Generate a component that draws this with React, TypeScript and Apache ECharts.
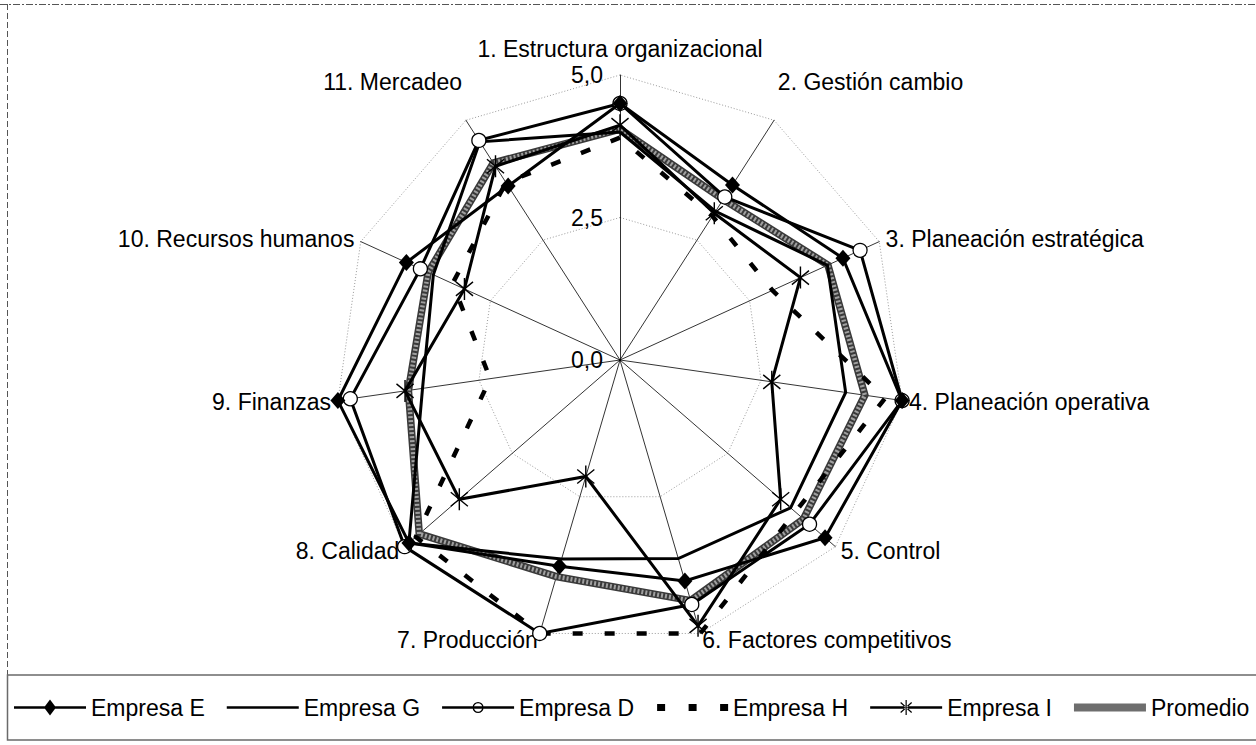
import React, { useEffect, useRef } from "react";
import * as echarts from "echarts";

// ---------- data ----------
const categories = [
  "1. Estructura organizacional",
  "2. Gestión cambio",
  "3. Planeación estratégica",
  "4. Planeación operativa",
  "5. Control",
  "6. Factores competitivos",
  "7. Producción",
  "8. Calidad",
  "9. Finanzas",
  "10. Recursos humanos",
  "11. Mercadeo",
];
const empresaE = [4.5, 3.65, 4.3, 5.0, 4.76, 4.04, 3.77, 4.9, 5.0, 4.12, 3.63];
const empresaG = [4.0, 3.1, 4.0, 4.0, 3.96, 3.63, 3.64, 4.9, 3.5, 3.6, 4.55];
const empresaD = [4.5, 3.4, 4.63, 5.0, 4.4, 4.47, 5.0, 5.0, 4.78, 3.85, 4.58];
const empresaH = [3.9, 3.0, 2.94, 4.7, 4.07, 5.0, 5.0, 4.74, 2.3, 3.23, 3.7];
const empresaI = [4.12, 3.06, 3.48, 2.69, 3.73, 4.86, 2.13, 3.73, 3.81, 3.0, 4.04];
const promedio = [4.05, 3.35, 4.01, 4.34, 4.26, 4.4, 3.96, 4.66, 3.75, 3.7, 4.11];
const seriesNames = ["Empresa E", "Empresa G", "Empresa D", "Empresa H", "Empresa I", "Promedio"];
const axisMin = 0;
const axisMax = 5;
const axisInterval = 2.5;

// ---------- layout / style ----------
const FONT = "'Liberation Sans', Arial, Helvetica, sans-serif";
const FS = 23;
const CX = 620;
const CY = 360;
const R = 285;

// radar in ECharts runs counter-clockwise: reorder so the chart reads clockwise
const cw = <T,>(arr: T[]): T[] => [arr[0], ...arr.slice(1).reverse()];

function bar(x1: number, y1: number, x2: number, y2: number, w: number) {
  const dx = x2 - x1, dy = y2 - y1, L = Math.hypot(dx, dy);
  const nx = (-dy / L) * w, ny = (dx / L) * w;
  const f = (v: number) => v.toFixed(2);
  return `M${f(x1 + nx)} ${f(y1 + ny)}L${f(x2 + nx)} ${f(y2 + ny)}L${f(x2 - nx)} ${f(y2 - ny)}L${f(x1 - nx)} ${f(y1 - ny)}Z`;
}

const starPath =
  "path://" + bar(10, 0, 10, 22, 0.75) + bar(1, 4, 19, 18, 0.75) + bar(1, 18, 19, 4, 0.75);

// legend icons drawn in a 72 x 16 box
const specks = "M0 0L0.01 0L0 0.01Z M72 16L71.99 16L72 15.99Z ";
const lineRect = "M0 6.7L72 6.7L72 9.3L0 9.3Z ";
const legendIcons: Record<string, string> = {
  "Empresa E": "path://" + specks + lineRect + "M36 0L42 8L36 16L30 8Z",
  "Empresa G": "path://" + specks + lineRect,
  "Empresa D":
    "path://" + specks + lineRect +
    "M41.5 8A5.5 5.5 0 1 1 30.5 8A5.5 5.5 0 1 1 41.5 8Z M40.2 8A4.2 4.2 0 1 0 31.8 8A4.2 4.2 0 1 0 40.2 8Z",
  "Empresa H":
    "path://" + specks +
    "M1 4.5L9 4.5L9 11.5L1 11.5Z M32.5 4.5L40.5 4.5L40.5 11.5L32.5 11.5Z M64 4.5L72 4.5L72 11.5L64 11.5Z",
  "Empresa I":
    "path://" + specks + lineRect + bar(36, 0.5, 36, 15.5, 0.6) + bar(30.5, 3, 41.5, 13, 0.6) + bar(30.5, 13, 41.5, 3, 0.6),
  Promedio: "path://" + specks + "M0 4L72 4L72 12L0 12Z",
};

const tickFmt = (v: number) => v.toFixed(1).replace(".", ",");

export default function App() {
  const ref = useRef<HTMLDivElement>(null);

  useEffect(() => {
    if (!ref.current) return;
    const chart = echarts.init(ref.current, undefined, { renderer: "svg" });

    const lineBase = { width: 3, color: "#000", join: "miter" as const, miterLimit: 4 };

    const mk = (name: string, values: number[], extra: any) => ({
      type: "radar",
      name,
      radarIndex: 0,
      silent: true,
      data: [{ name, value: cw(values) }],
      ...extra,
    });

    const option: any = {
      animation: false,
      backgroundColor: "#fff",
      textStyle: { fontFamily: FONT },
      graphic: [
        {
          type: "line",
          silent: true,
          shape: { x1: 0, y1: 4.5, x2: 1256, y2: 4.5 },
          style: { stroke: "#555", lineWidth: 1, lineDash: [7, 2, 2, 2] },
        },
        {
          type: "line",
          silent: true,
          shape: { x1: 7.5, y1: 4, x2: 7.5, y2: 675 },
          style: { stroke: "#555", lineWidth: 1, lineDash: [6, 3] },
        },
        {
          type: "rect",
          silent: true,
          shape: { x: 7.5, y: 675, width: 1260, height: 65 },
          style: { fill: "none", stroke: "#6a6a6a", lineWidth: 1.5 },
        },
      ],
      polar: { center: [CX, CY], radius: R },
      angleAxis: { show: false, startAngle: 90, min: 0, max: 360 },
      radiusAxis: {
        min: axisMin,
        max: axisMax,
        interval: axisInterval,
        axisLine: { show: false },
        axisTick: { show: false },
        splitLine: { show: false },
        axisLabel: {
          formatter: tickFmt,
          fontSize: FS,
          color: "#000",
          fontFamily: FONT,
          margin: 17,
        },
        z: 10,
      },
      radar: {
        center: [CX, CY],
        radius: R,
        startAngle: 90,
        splitNumber: 2,
        shape: "polygon",
        indicator: cw(categories).map((c) => ({ name: c, min: axisMin, max: axisMax })),
        nameGap: 7,
        axisName: {
          color: "#000",
          fontSize: FS,
          fontFamily: FONT,
          formatter: (name: string) =>
            name === categories[0]
              ? `{top|${name}}`
              : name === categories[1] || name === categories[10]
              ? `{up|${name}}`
              : name,
          rich: {
            top: { padding: [0, 0, 8, 0], fontSize: FS, color: "#000", fontFamily: FONT },
            up: { padding: [0, 0, 64, 0], fontSize: FS, color: "#000", fontFamily: FONT },
          },
        },
        axisLine: { lineStyle: { color: "#000", width: 0.8 } },
        splitLine: { lineStyle: { color: "#9a9a9a", width: 1, type: [1, 2] } },
        splitArea: { show: false },
        axisTick: { show: false },
        axisLabel: { show: false },
      },
      legend: {
        left: 14,
        top: 696,
        padding: 0,
        itemWidth: 72,
        itemHeight: 16,
        itemGap: 22,
        selectedMode: false,
        symbolKeepAspect: true,
        textStyle: { fontSize: FS, color: "#000", fontFamily: FONT },
        itemStyle: { borderWidth: 0 },
        data: seriesNames.map((n) => ({
          name: n,
          icon: legendIcons[n],
          itemStyle: { color: n === "Promedio" ? "#6e6e6e" : "#000", borderWidth: 0 },
        })),
      },
      series: [
        mk("Promedio", promedio, {
          symbol: "none",
          color: "#6e6e6e",
          lineStyle: { width: 7.5, color: "#3a3a3a", join: "miter", miterLimit: 4 },
          z: 2,
        }),
        mk("Promedio", promedio, {
          symbol: "none",
          color: "#6e6e6e",
          lineStyle: { width: 4.5, color: "#a0a0a0", type: [2, 2], join: "miter", miterLimit: 4 },
          z: 2,
        }),
        mk("Empresa H", empresaH, {
          symbol: "none",
          color: "#000",
          lineStyle: { width: 4.5, color: "#000", type: [10, 22], cap: "butt" },
          z: 3,
        }),
        mk("Empresa G", empresaG, {
          symbol: "none",
          color: "#000",
          lineStyle: lineBase,
          z: 4,
        }),
        mk("Empresa I", empresaI, {
          symbol: starPath,
          symbolSize: [18, 22],
          color: "#000",
          itemStyle: { color: "#000" },
          lineStyle: lineBase,
          z: 5,
        }),
        mk("Empresa D", empresaD, {
          symbol: "circle",
          symbolSize: 14,
          color: "#000",
          itemStyle: { color: "#fff", borderColor: "#000", borderWidth: 1.3 },
          lineStyle: lineBase,
          z: 6,
        }),
        mk("Empresa E", empresaE, {
          symbol: "diamond",
          symbolSize: [15, 17],
          color: "#000",
          itemStyle: { color: "#000" },
          lineStyle: lineBase,
          z: 7,
        }),
      ],
    };

    chart.setOption(option);
    return () => chart.dispose();
  }, []);

  return (
    <div
      ref={ref}
      style={{ position: "fixed", left: 0, top: 0, width: 1256, height: 745, background: "#fff" }}
    />
  );
}
